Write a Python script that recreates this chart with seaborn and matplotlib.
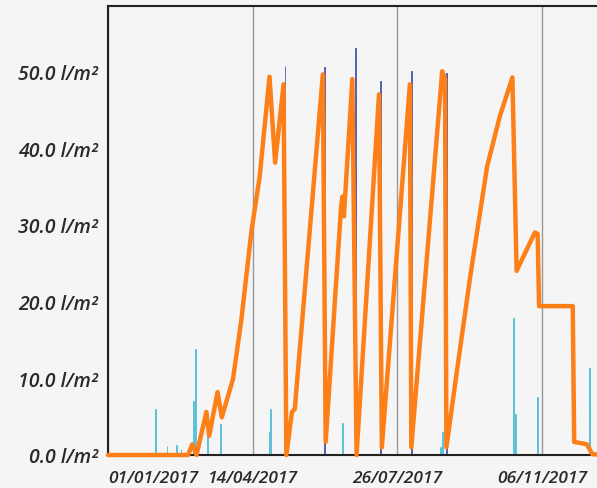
import pandas as pd
import numpy as np
import matplotlib
matplotlib.use("Agg")
import matplotlib.pyplot as plt
import matplotlib.dates as mdates
import seaborn as sns

# soil water line (orange)
line_dates = ["2017-01-01", "2017-02-27", "2017-03-02", "2017-03-05", "2017-03-12", "2017-03-14",
              "2017-03-20", "2017-03-23", "2017-03-31", "2017-04-06", "2017-04-13", "2017-04-19",
              "2017-04-26", "2017-04-30", "2017-05-06", "2017-05-08", "2017-05-12", "2017-05-14",
              "2017-06-03", "2017-06-05", "2017-06-16", "2017-06-17", "2017-06-18", "2017-06-24",
              "2017-06-27", "2017-07-13", "2017-07-15", "2017-08-04", "2017-08-05", "2017-08-27",
              "2017-08-29", "2017-08-30", "2017-09-06", "2017-09-16", "2017-09-28", "2017-10-07",
              "2017-10-16", "2017-10-19", "2017-11-01", "2017-11-03", "2017-11-04", "2017-11-28",
              "2017-11-29", "2017-12-08", "2017-12-12", "2017-12-31"]
line_values = [0, 0, 1.4, 0, 5.6, 2.5,
               8.2, 4.9, 9.9, 17.7, 29.0, 36.3,
               49.3, 38.1, 48.3, 0, 5.6, 6.0,
               49.6, 1.7, 32.4, 33.7, 31.1, 49.0,
               0, 47.0, 1.0, 48.3, 1.0, 50.0,
               49.0, 1.0, 10.3, 23.3, 37.6, 44.1,
               49.2, 24.0, 29.0, 28.8, 19.4, 19.4,
               1.7, 1.4, 0.1, 0]

# rain (light blue bars)
rain_dates = ["2017-02-04", "2017-02-12", "2017-02-19", "2017-02-22", "2017-03-03", "2017-03-04",
              "2017-03-13", "2017-03-22", "2017-04-26", "2017-04-27", "2017-06-17", "2017-08-26",
              "2017-08-27", "2017-10-17", "2017-10-18", "2017-11-03", "2017-12-10"]
rain_values = [6.0, 1.2, 1.3, 0.8, 7.1, 13.8,
               3.8, 4.0, 3.0, 6.0, 4.2, 1.0,
               3.0, 17.9, 5.3, 7.5, 11.4]

# irrigation (dark blue bars)
irr_dates = ["2017-05-07", "2017-06-04", "2017-06-26", "2017-07-14", "2017-08-05", "2017-08-30"]
irr_values = [50.7, 50.5, 53.1, 48.7, 50.0, 49.8]

tick_dates = ["2017-01-01", "2017-04-14", "2017-07-26", "2017-11-06"]
y_ticks = [0, 10, 20, 30, 40, 50]

bg = "#f5f5f5"
sns.set_style("white", {"axes.facecolor": bg, "figure.facecolor": bg})
plt.rcParams["font.family"] = ["Open Sans", "DejaVu Sans"]

df = pd.DataFrame({"date": pd.to_datetime(line_dates), "value": line_values})

fig = plt.figure(figsize=(5.97, 4.89), dpi=100)
ax = fig.add_axes([0.181, 0.0675, 0.856, 0.918])

ax.bar(pd.to_datetime(rain_dates), rain_values, width=0.6, color="#5cc3da",
       edgecolor="#5cc3da", linewidth=0.7, zorder=2)
ax.bar(pd.to_datetime(irr_dates), irr_values, width=0.5, color="#4a55b0",
       edgecolor="#4a55b0", linewidth=0.6, zorder=2)
sns.lineplot(data=df, x="date", y="value", color="#fd7f17", lw=3.2, ax=ax, zorder=3)
ax.lines[-1].set_clip_on(False)

ax.set_xlim(pd.Timestamp("2017-01-01"), pd.Timestamp("2017-12-31"))
ax.set_ylim(0, 58.5)

ax.set_xticks(pd.to_datetime(tick_dates))
ax.xaxis.set_major_formatter(mdates.DateFormatter("%d/%m/%Y"))
ax.set_yticks(y_ticks)
ax.set_yticklabels([f"{v:.1f} l/m²" for v in y_ticks])
ax.tick_params(length=0, labelcolor="#2a2a2a")
ax.tick_params(axis="x", pad=11, labelsize=12.5)
ax.tick_params(axis="y", pad=7, labelsize=14)
for lab in ax.get_xticklabels() + ax.get_yticklabels():
    lab.set_fontstyle("italic")
    lab.set_fontweight("semibold")
ax.get_xticklabels()[0].set_horizontalalignment("left")

ax.grid(axis="x", color="#999999", lw=1)
ax.grid(axis="y", visible=False)
ax.set_axisbelow(True)
ax.set_xlabel("")
ax.set_ylabel("")

for s in ["left", "top", "bottom"]:
    ax.spines[s].set_color("#222222")
    ax.spines[s].set_linewidth(1.5)
ax.spines["right"].set_visible(False)

fig.savefig("out.png", dpi=100, facecolor=bg)
